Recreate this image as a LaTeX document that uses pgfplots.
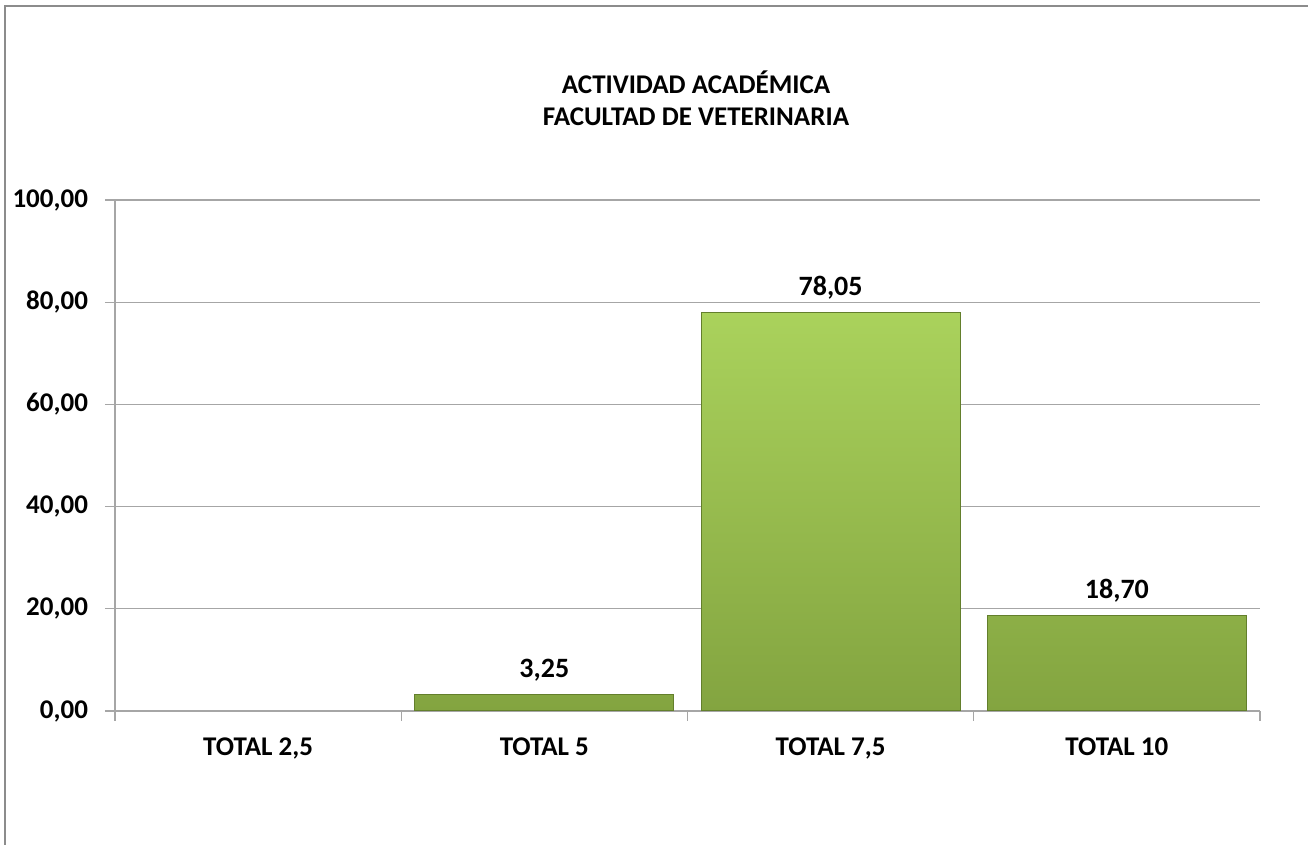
\documentclass[border=0pt]{standalone}
\usepackage{pgfplots}
\pgfplotsset{compat=1.18}
\usepackage{fontspec}
\setmainfont{Carlito}
\definecolor{gridgray}{HTML}{A6A6A6}
\definecolor{framegray}{HTML}{8C8C8C}
\definecolor{bartop}{HTML}{AAD25C}
\definecolor{barmid}{HTML}{9BC24F}
\definecolor{barbot}{HTML}{83A440}
\definecolor{baredge}{HTML}{637F2C}
\begin{document}
\begin{tikzpicture}[font=\fontsize{13.5}{16}\selectfont\bfseries]
\useasboundingbox (0,0) rectangle (654pt,422.5pt);
\draw[framegray, line width=1pt] (2.5pt,0) -- (2.5pt,419.5pt) -- (654pt,419.5pt);
\node[align=center, font=\fontsize{13.5}{16}\selectfont\bfseries] at (348pt,373.5pt) {ACTIVIDAD ACADÉMICA\\FACULTAD DE VETERINARIA};
\begin{axis}[
  at={(57.5pt,67pt)}, anchor=south west,
  scale only axis, width=572.5pt, height=255.5pt,
  xmin=-0.5, xmax=3.5, ymin=0, ymax=100,
  axis x line*=bottom, axis y line*=left,
  axis line style={gridgray, line width=0.6pt},
  x axis line style={-}, y axis line style={-},
  ytick={0,20,40,60,80,100},
  ymajorgrids, grid style={gridgray, line width=0.6pt},
  tick align=outside, major tick length=5pt,
  tick style={gridgray, line width=0.6pt},
  xtick={-0.5,0.5,1.5,2.5,3.5},
  x tick label as interval,
  xticklabels={{TOTAL 2,5},{TOTAL 5},{TOTAL 7,5},{TOTAL 10}},
  xticklabel style={yshift=-5pt, font=\fontsize{13.5}{16}\selectfont\bfseries},
  yticklabel style={xshift=-5pt, font=\fontsize{13.5}{16}\selectfont\bfseries},
  /pgf/number format/assume math mode=true,
  yticklabel={\pgfmathprintnumber[fixed, zerofill, precision=2, use comma]{\tick}},
  ybar, bar width=129.5pt,
  nodes near coords={\pgfmathprintnumber[fixed, zerofill, precision=2, use comma, assume math mode=true]{\pgfplotspointmeta}},
  nodes near coords style={font=\fontsize{14}{16}\selectfont\bfseries, yshift=3pt},
]
\addplot[draw=baredge, line width=0.5pt, top color=bartop, middle color=barmid, bottom color=barbot] coordinates {(1,3.25) (2,78.05) (3,18.70)};
\end{axis}
\end{tikzpicture}
\end{document}
